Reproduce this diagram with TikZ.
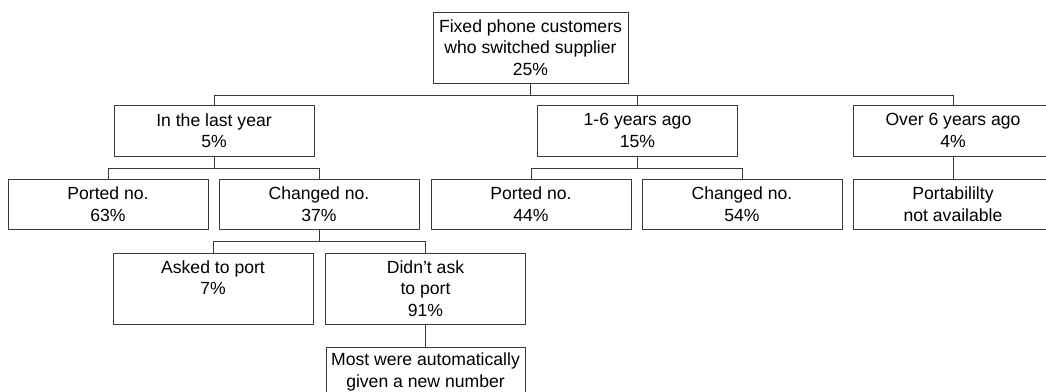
\documentclass[tikz,border=0pt]{standalone}
\usepackage{fontspec}
\setmainfont{Liberation Sans}
\usetikzlibrary{positioning}
\definecolor{wiregray}{HTML}{3A3A3A}

\begin{document}
\begin{tikzpicture}[x=0.75pt,y=-0.75pt,
  font=\fontsize{13.2}{16.1}\selectfont,
  box/.style={draw=wiregray,line width=0.7pt,align=center,inner sep=0pt,
    minimum width=150pt,minimum height=#1},
  box/.default=37.5pt,
  wire/.style={draw=wiregray,line width=0.7pt}]

\useasboundingbox (0,0) rectangle (1046,392);
\clip (0,0) rectangle (1046,392);

% ---- top ----
\node[box=53.25pt,minimum width=146.25pt] (root) at (530.5,47.5)
  {Fixed phone customers\\who switched supplier\\25\%};

% ---- when they switched ----
\node[box=38.25pt] (lastyr) at (214,130.5) {In the last year\\5\%};
\node[box=38.25pt] (midyrs) at (637.5,130.5) {1-6 years ago\\15\%};
\node[box=38.25pt] (oldyrs) at (953,130.5) {Over 6 years ago\\4\%};

% ---- kept or changed the number ----
\node[box] (lyport) at (108,204) {Ported no.\\63\%};
\node[box] (lychg) at (319,204) {Changed no.\\37\%};
\node[box] (myport) at (531,204) {Ported no.\\44\%};
\node[box] (mychg) at (742,204) {Changed no.\\54\%};
\node[box] (noport) at (953,204) {Portabililty\\not available};

% ---- asked to port or not ----
\node[box=53.25pt] (askport) at (213,288.5) {Asked to port\\7\%\\\mbox{}};
\node[box=53.25pt] (noask) at (425.5,288.5) {Didn't ask\\to port\\91\%};
\node[box,minimum width=149.25pt] (autonew) at (425.5,372)
  {Most were automatically\\given a new number};

% ---- connectors ----
\foreach \kid in {lastyr,midyrs,oldyrs}
  \draw[wire] (root.south) -- ++(0,12) -| (\kid.north);
\foreach \kid in {lyport,lychg}
  \draw[wire] (lastyr.south) -- ++(0,12) -| (\kid.north);
\foreach \kid in {myport,mychg}
  \draw[wire] (midyrs.south) -- ++(0,12) -| (\kid.north);
\foreach \kid in {askport,noask}
  \draw[wire] (lychg.south) -- ++(0,12) -| (\kid.north);
\draw[wire] (oldyrs) -- (noport);
\draw[wire] (noask) -- (autonew);

\end{tikzpicture}
\end{document}
